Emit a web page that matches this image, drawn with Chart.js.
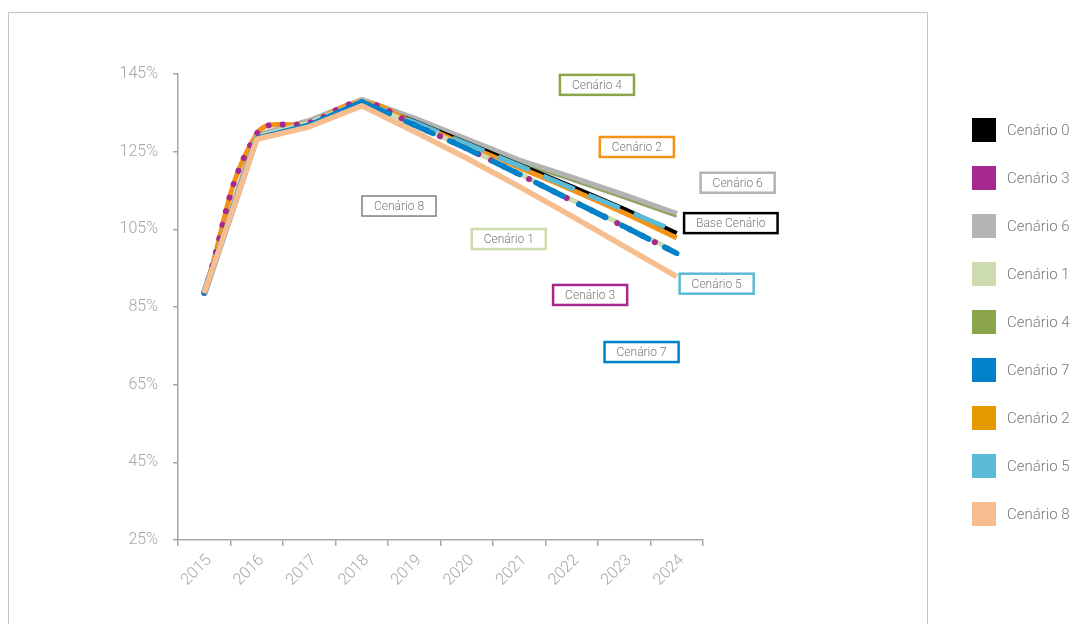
<!DOCTYPE html>
<html>
<head>
<meta charset="utf-8">
<script src="https://cdn.jsdelivr.net/npm/chart.js@4.4.0/dist/chart.umd.min.js"></script>
<style>
  html, body { margin: 0; padding: 0; background: #fff; }
  #wrap { position: relative; width: 1079px; height: 624px; }
</style>
</head>
<body>
<div id="wrap"><canvas id="cenarios" width="1079" height="624"></canvas></div>
<script>
var years = ['2015', '2016', '2017', '2018', '2019', '2020', '2021', '2022', '2023', '2024'];

var cenario0 = [88.6, 128.8, 132.4, 137.8, 132.8, 127.2, 121.6, 116.0, 110.2, 104.0];
var cenario3 = [88.6, 129.6, 132.4, 137.6, 131.9, 125.8, 119.2, 112.4, 105.7, 98.8];
var cenario6 = [88.6, 129.0, 132.8, 138.2, 133.4, 128.0, 122.6, 118.2, 113.6, 108.8];
var cenario1 = [88.6, 128.8, 132.4, 137.8, 132.0, 126.0, 119.4, 112.6, 105.9, 99.0];
var cenario4 = [88.6, 128.8, 132.6, 138.0, 133.0, 127.6, 122.0, 117.6, 113.0, 108.3];
var cenario7 = [88.6, 128.4, 131.8, 137.8, 131.9, 125.8, 119.2, 112.4, 105.7, 98.8];
var cenario2 = [88.6, 129.6, 132.4, 137.6, 132.4, 126.6, 120.9, 115.2, 109.2, 102.8];
var cenario5 = [88.6, 128.8, 132.4, 137.8, 132.6, 127.0, 121.4, 115.6, 110.0, 104.4];
var cenario8 = [88.6, 128.2, 131.4, 136.8, 130.2, 123.3, 116.0, 108.4, 100.6, 92.8];

var yTicks = [25, 45, 65, 85, 105, 125, 145];

var axisGrey = '#a6a6a6';
var textGrey = '#7a7a7a';
Chart.defaults.font.family = 'Roboto, "Liberation Sans", sans-serif';

// label boxes placed in data units (category index, percent)
var tags = [
  { text: 'Cenário 4', color: '#8aa54a', x: 7.48, y: 142.2, w: 2.5 },
  { text: 'Cenário 2', color: '#f39419', x: 8.24, y: 126.2, w: 2.5 },
  { text: 'Cenário 6', color: '#b3b3b3', x: 10.16, y: 117.0, w: 2.5 },
  { text: 'Base Cenário', color: '#000000', x: 10.03, y: 106.6, w: 2.5 },
  { text: 'Cenário 8', color: '#808080', x: 3.71, y: 111.0, w: 1.5 },
  { text: 'Cenário 1', color: '#cddcae', x: 5.80, y: 102.5, w: 2.5 },
  { text: 'Cenário 5', color: '#5bbad5', x: 9.76, y: 91.0, w: 2.5 },
  { text: 'Cenário 3', color: '#a62a8e', x: 7.35, y: 88.1, w: 2.5 },
  { text: 'Cenário 7', color: '#0081c9', x: 8.33, y: 73.4, w: 2.5 }
];

var framePlugin = {
  id: 'frame',
  beforeDraw: function(chart) {
    var ctx = chart.ctx;
    ctx.save();
    ctx.fillStyle = '#ffffff';
    ctx.fillRect(0, 0, chart.width, chart.height);
    ctx.strokeStyle = '#c4c4c4';
    ctx.lineWidth = 1;
    ctx.strokeRect(8.5, 12.5, 919, 700);
    ctx.restore();
  }
};

var tagPlugin = {
  id: 'tags',
  afterDatasetsDraw: function(chart) {
    var ctx = chart.ctx;
    var xs = chart.scales.x, ys = chart.scales.y;
    ctx.save();
    ctx.font = '300 12px Roboto, "Liberation Sans", sans-serif';
    ctx.textAlign = 'center';
    ctx.textBaseline = 'middle';
    tags.forEach(function(t) {
      var cx = xs.getPixelForValue(t.x);
      var cy = ys.getPixelForValue(t.y);
      var bw = ctx.measureText(t.text).width + 24;
      var bh = 20;
      ctx.fillStyle = '#ffffff';
      ctx.fillRect(cx - bw / 2, cy - bh / 2, bw, bh);
      ctx.strokeStyle = t.color;
      ctx.lineWidth = t.w;
      ctx.strokeRect(cx - bw / 2, cy - bh / 2, bw, bh);
      ctx.fillStyle = textGrey;
      ctx.fillText(t.text, cx, cy + 1);
    });
    ctx.restore();
  }
};

var sideLegend = {
  id: 'sideLegend',
  afterDraw: function(chart) {
    var ctx = chart.ctx;
    ctx.save();
    ctx.font = '300 15px Roboto, "Liberation Sans", sans-serif';
    ctx.textBaseline = 'middle';
    ctx.textAlign = 'left';
    chart.data.datasets.forEach(function(ds, i) {
      var y = 130 + i * 48;
      ctx.fillStyle = ds.swatch;
      ctx.fillRect(972, y - 12, 24, 24);
      ctx.fillStyle = textGrey;
      ctx.fillText(ds.label, 1007, y + 1);
    });
    ctx.restore();
  }
};

function dashedAfter(start, pattern) {
  return function(c) { return c.p0DataIndex < start ? [] : pattern; };
}

var ctx = document.getElementById('cenarios');
var chart = new Chart(ctx, {
  type: 'line',
  data: {
    labels: years,
    datasets: [
      { label: 'Cenário 0', data: cenario0, borderColor: '#000000', swatch: '#000000', borderWidth: 4.5, order: 7 },
      { label: 'Cenário 3', data: cenario3, borderColor: '#a62a8e', swatch: '#a62a8e', borderWidth: 6,
        borderDash: [0.1, 14], borderCapStyle: 'round', tension: 0.4, order: 3 },
      { label: 'Cenário 6', data: cenario6, borderColor: '#b3b3b3', swatch: '#b3b3b3', borderWidth: 7, order: 9 },
      { label: 'Cenário 1', data: cenario1, borderColor: '#cddcae', swatch: '#cddcae', borderWidth: 5, order: 4 },
      { label: 'Cenário 4', data: cenario4, borderColor: '#8aa54a', swatch: '#8aa54a', borderWidth: 1.5, order: 8 },
      { label: 'Cenário 7', data: cenario7, borderColor: '#0081c9', swatch: '#0081c9', borderWidth: 5.5,
        borderCapStyle: 'round', segment: { borderDash: dashedAfter(3, [30, 18]) }, order: 2 },
      { label: 'Cenário 2', data: cenario2, borderColor: '#f39419', swatch: '#e59a00', borderWidth: 5, tension: 0.4, order: 6 },
      { label: 'Cenário 5', data: cenario5, borderColor: '#5bbad5', swatch: '#5bbad5', borderWidth: 5,
        segment: { borderDash: dashedAfter(3, [34, 15]) }, order: 5 },
      { label: 'Cenário 8', data: cenario8, borderColor: '#f6bd8e', swatch: '#f6bd8e', borderWidth: 5.5, order: 1 }
    ]
  },
  options: {
    responsive: false,
    animation: false,
    events: [],
    layout: { padding: { left: 0, top: 74, right: 376, bottom: 0 } },
    elements: {
      point: { radius: 0 },
      line: { tension: 0, borderJoinStyle: 'round', fill: false }
    },
    plugins: {
      legend: { display: false },
      tooltip: { enabled: false }
    },
    scales: {
      x: {
        offset: true,
        grid: { offset: true, drawOnChartArea: false, color: axisGrey, tickLength: 6, lineWidth: 1.5 },
        border: { color: axisGrey, width: 1.5 },
        ticks: {
          color: axisGrey,
          font: { size: 16, weight: 300 },
          minRotation: 45,
          maxRotation: 45,
          labelOffset: 5,
          padding: 5
        },
        afterFit: function(scale) { scale.height = 84; }
      },
      y: {
        min: 25,
        max: 145,
        afterBuildTicks: function(scale) {
          scale.ticks = yTicks.map(function(v) { return { value: v }; });
        },
        grid: { drawOnChartArea: false, color: axisGrey, tickLength: 5, lineWidth: 1.5 },
        border: { color: axisGrey, width: 1.5 },
        ticks: {
          color: axisGrey,
          font: { size: 16, weight: 300 },
          padding: 15,
          callback: function(v) { return v + '%'; }
        },
        afterFit: function(scale) { scale.width = 178; }
      }
    }
  },
  plugins: [framePlugin, tagPlugin, sideLegend]
});
</script>
</body>
</html>
